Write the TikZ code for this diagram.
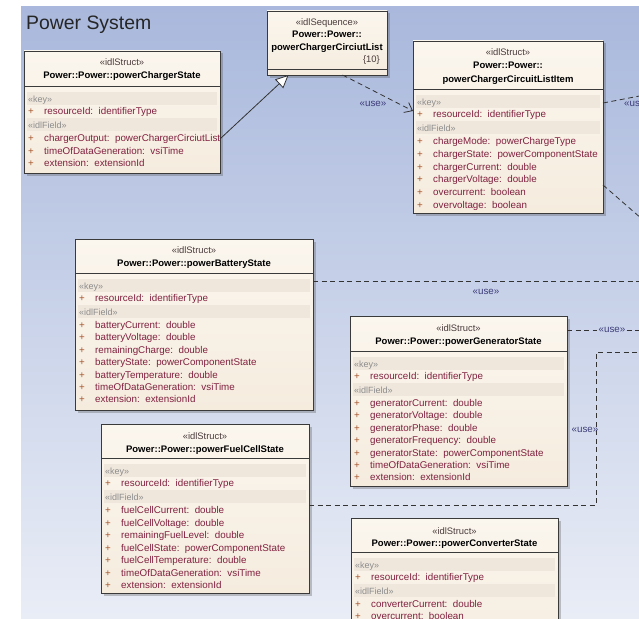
\documentclass[tikz,border=0pt]{standalone}
\usepackage{fontspec}
\setmainfont{Liberation Sans}
\usetikzlibrary{arrows.meta,calc,shadows}

\definecolor{bgtop}{HTML}{A9B8DC}
\definecolor{bgbot}{HTML}{E9EDF6}
\definecolor{boxtop}{HTML}{FBF6EE}
\definecolor{boxbot}{HTML}{F5ECDE}
\definecolor{bandcol}{HTML}{EFE7DC}
\definecolor{edgecol}{HTML}{3A3A3A}
\definecolor{fieldcol}{HTML}{80203F}
\definecolor{pluscol}{HTML}{A4542C}
\definecolor{sectcol}{HTML}{8C8C8C}
\definecolor{stereocol}{HTML}{4A3C3C}
\definecolor{usecol}{HTML}{3C3C78}
\definecolor{linecol}{HTML}{333333}

\tikzset{
  classbox/.style={draw=edgecol, line width=0.9pt, top color=boxtop, bottom color=boxbot,
    inner sep=0pt, outer sep=0pt, anchor=north west,
    drop shadow={shadow xshift=2.5pt, shadow yshift=-2.5pt, opacity=0.3, fill=black!70}},
  sepline/.style={draw=edgecol, line width=0.9pt},
  band/.style={fill=bandcol},
  stereo/.style={inner sep=0pt, anchor=base, text=stereocol, font=\fontsize{9.4}{10}\selectfont},
  cname/.style={inner sep=0pt, anchor=base, text=black, font=\fontsize{9.5}{10}\selectfont\bfseries},
  sect/.style={inner sep=0pt, anchor=base west, text=sectcol, font=\fontsize{9}{10}\selectfont},
  field/.style={inner sep=0pt, anchor=base west, text=fieldcol, font=\fontsize{9.8}{10}\selectfont},
  uselabel/.style={inner sep=1pt, text=usecol, font=\fontsize{9.8}{10}\selectfont},
  uses/.style={draw=linecol, line width=0.8pt, dash pattern=on 5pt off 3.5pt},
  realize/.style={draw=linecol, line width=0.8pt},
}

\newcommand\plusmark{\makebox[16pt][l]{\textcolor{pluscol}{+}}}
\newcommand\fld[2]{#1:\hspace{5.5pt}#2}

% compartments of an idlStruct box: #1 id, #2 left, #3 right, #4 separator y, #5 row step, #6 fields
\newcommand\umlfields[6]{%
  \draw[sepline] (#2,#4) -- (#3,#4);
  \fill[band] (#2+3,#4+6) rectangle (#3-3,#4+19);
  \fill[band] (#2+3,#4+32) rectangle (#3-3,#4+45);
  \node[sect] (#1-key) at (#2+4,#4+16) {«key»};
  \node[field] (#1-rid) at (#2+4,#4+28.5) {\plusmark\fld{resourceId}{identifierType}};
  \node[sect] (#1-grp) at (#2+4,#4+42.5) {«idlField»};
  \foreach \t [count=\i] in {#6} {
    \node[field] (#1-f\i) at (#2+4,#4+55.5+\i*#5-#5) {\plusmark\t};
  }%
}

\begin{document}
\begin{tikzpicture}[x=1pt,y=-1pt]
  \clip (0,0) rectangle (639,618);
  \fill[white] (0,0) rectangle (639,618);
  \shade[top color=bgtop, bottom color=bgbot] (21,7) rectangle (639,618);

  \node[anchor=base west, inner sep=0pt, text=black!85, font=\fontsize{19.4}{22}\selectfont]
    (title) at (26,30) {Power System};

  % powerChargerState
  \node[classbox, minimum width=196pt, minimum height=122pt] (pcs) at (24,51) {};
  \node[stereo] (pcs-st) at (122,65.5) {«idlStruct»};
  \node[cname] (pcs-nm) at (122,78.5) {Power::Power::powerChargerState};
  \umlfields{pcs}{24}{220}{86}{12.5}{\fld{chargerOutput}{powerChargerCirciutList},
    \fld{timeOfDataGeneration}{vsiTime}, \fld{extension}{extensionId}}

  % powerChargerCirciutList
  \node[classbox, minimum width=120pt, minimum height=64pt] (seq) at (267,11) {};
  \draw[sepline] (267,69) -- (387,69);
  \node[stereo] (seq-st) at (327,25.5) {«idlSequence»};
  \node[cname] (seq-nm1) at (327,37.5) {Power::Power::};
  \node[cname] (seq-nm2) at (327,51) {powerChargerCirciutList};
  \node[stereo, anchor=base east] (seq-bd) at (380,62.5) {\{10\}};

  % powerChargerCircuitListItem
  \node[classbox, minimum width=190pt, minimum height=172pt] (item) at (413,41) {};
  \node[stereo] (item-st) at (508,55.5) {«idlStruct»};
  \node[cname] (item-nm1) at (508,68.5) {Power::Power::};
  \node[cname] (item-nm2) at (508,82.5) {powerChargerCircuitListItem};
  \umlfields{item}{413}{603}{89}{12.8}{\fld{chargeMode}{powerChargeType},
    \fld{chargerState}{powerComponentState}, \fld{chargerCurrent}{double},
    \fld{chargerVoltage}{double}, \fld{overcurrent}{boolean}, \fld{overvoltage}{boolean}}

  % powerBatteryState
  \node[classbox, minimum width=238pt, minimum height=171pt] (bat) at (75,239) {};
  \node[stereo] (bat-st) at (194,253.5) {«idlStruct»};
  \node[cname] (bat-nm) at (194,266.5) {Power::Power::powerBatteryState};
  \umlfields{bat}{75}{313}{273}{12.4}{\fld{batteryCurrent}{double},
    \fld{batteryVoltage}{double}, \fld{remainingCharge}{double},
    \fld{batteryState}{powerComponentState}, \fld{batteryTemperature}{double},
    \fld{timeOfDataGeneration}{vsiTime}, \fld{extension}{extensionId}}

  % powerGeneratorState
  \node[classbox, minimum width=217pt, minimum height=170pt] (gen) at (350,316) {};
  \node[stereo] (gen-st) at (458.5,331) {«idlStruct»};
  \node[cname] (gen-nm) at (458.5,344) {Power::Power::powerGeneratorState};
  \umlfields{gen}{350}{567}{351}{12.4}{\fld{generatorCurrent}{double},
    \fld{generatorVoltage}{double}, \fld{generatorPhase}{double},
    \fld{generatorFrequency}{double}, \fld{generatorState}{powerComponentState},
    \fld{timeOfDataGeneration}{vsiTime}, \fld{extension}{extensionId}}

  % powerFuelCellState
  \node[classbox, minimum width=208pt, minimum height=169pt] (fuel) at (101,424) {};
  \node[stereo] (fuel-st) at (205,439.5) {«idlStruct»};
  \node[cname] (fuel-nm) at (205,452) {Power::Power::powerFuelCellState};
  \umlfields{fuel}{101}{309}{458}{12.5}{\fld{fuelCellCurrent}{double},
    \fld{fuelCellVoltage}{double}, \fld{remainingFuelLevel}{double},
    \fld{fuelCellState}{powerComponentState}, \fld{fuelCellTemperature}{double},
    \fld{timeOfDataGeneration}{vsiTime}, \fld{extension}{extensionId}}

  % powerConverterState
  \node[classbox, minimum width=207pt, minimum height=140pt] (conv) at (351,518) {};
  \node[stereo] (conv-st) at (454.5,534) {«idlStruct»};
  \node[cname] (conv-nm) at (454.5,546.5) {Power::Power::powerConverterState};
  \umlfields{conv}{351}{558}{552}{12.4}{\fld{converterCurrent}{double},
    \fld{overcurrent}{boolean}}

  % realization of the sequence type
  \draw[realize, -{Triangle[length=13pt,width=12pt,fill=white]}]
    (pcs.east |- pcs-f1.center) -- ($(seq.south west)!0.18!(seq.south east)$);

  % usage dependencies
  \draw[uses, -{Straight Barb[length=7pt,width=11pt]}]
    ($(seq.south west)!0.63!(seq.south east)$) -- ($(item.north west)+(0,70)$);
  \node[uselabel] (seq-use) at (373,104) {«use»};

  \coordinate (item-end1) at (650,94);
  \draw[uses] ($(item.north east)+(0,62)$) -- (item-end1);
  \node[uselabel, anchor=west] (item-use) at (623,104) {«use»};

  \coordinate (item-end2) at (650,226);
  \draw[uses] ($(item.north east)+(0,144)$) -- (item-end2);

  \coordinate (bat-end) at (650,281);
  \draw[uses] ($(bat.north east)+(0,42)$) -- (bat-end);
  \node[uselabel] (bat-use) at (486,292) {«use»};

  \node[uselabel] (gen-use) at (612,330) {«use»};
  \coordinate (gen-end) at (650,330);
  \draw[uses] ($(gen.north east)+(0,14)$) -- (gen-use.west);
  \draw[uses] (gen-use.east) -- (gen-end);

  \coordinate (fuel-bend) at (596,352);
  \coordinate (fuel-end) at (650,352);
  \draw[uses] ($(fuel.north east)+(0,81)$) -| (fuel-bend) -- (fuel-end);
  \node[uselabel] (fuel-use) at (585,430) {«use»};
\end{tikzpicture}
\end{document}
